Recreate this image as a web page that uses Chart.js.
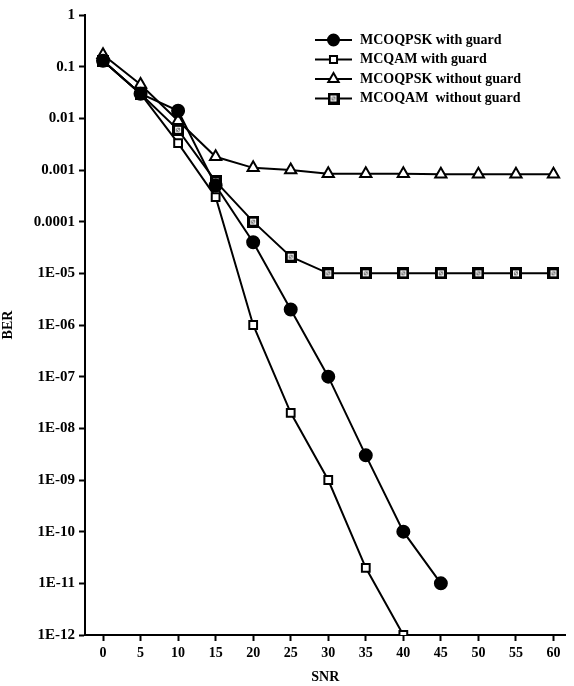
<!DOCTYPE html>
<html>
<head>
<meta charset="utf-8">
<script src="https://cdn.jsdelivr.net/npm/chart.js@4.4.1/dist/chart.umd.min.js"></script>
<style>
  html, body { margin: 0; padding: 0; background: #fff; }
  #wrap { width: 574px; height: 686px; }
</style>
</head>
<body>
<div id="wrap"><canvas id="berChart" width="574" height="686"></canvas></div>
<script>
// SNR values (x) and BER values (y)
const snr = [0, 5, 10, 15, 20, 25, 30, 35, 40, 45, 50, 55, 60];
const qpskGuard = [0.13, 0.03, 0.014, 0.0005, 0.00004, 0.000002, 1e-7, 3e-9, 1e-10, 1e-11];
const qamGuard = [0.13, 0.03, 0.0033, 0.0003, 0.000001, 2e-8, 1e-9, 2e-11, 1e-12];
const qpskNoGuard = [0.17, 0.045, 0.009, 0.0018, 0.0011, 0.001, 0.00085, 0.00085, 0.00085, 0.00083, 0.00083, 0.00083, 0.00083];
const qamNoGuard = [0.13, 0.03, 0.006, 0.0006, 0.0001, 0.000021, 0.00001, 0.00001, 0.00001, 0.00001, 0.00001, 0.00001, 0.00001];
const seriesNames = ['MCOQPSK with guard', 'MCQAM with guard', 'MCOQPSK without guard', 'MCOQAM  without guard'];
const berTicks = [1, 0.1, 0.01, 0.001, 0.0001, 1e-5, 1e-6, 1e-7, 1e-8, 1e-9, 1e-10, 1e-11, 1e-12];
const berLabels = ['1', '0.1', '0.01', '0.001', '0.0001', '1E-05', '1E-06', '1E-07', '1E-08', '1E-09', '1E-10', '1E-11', '1E-12'];

const FONT = '"Liberation Serif", "Times New Roman", serif';

function toPoints(vals) {
    return vals.map((v, i) => ({ x: snr[i], y: v }));
}

// square with a small crossed circle inside (MCOQAM without guard)
function crossSquare() {
    const c = document.createElement('canvas');
    c.width = 12; c.height = 12;
    const g = c.getContext('2d');
    g.fillStyle = '#000';
    g.fillRect(0, 0, 12, 12);
    g.fillStyle = '#fff';
    g.fillRect(3, 3, 6, 6);
    g.strokeStyle = '#777';
    g.lineWidth = 1;
    g.beginPath();
    g.arc(6, 6, 1.8, 0, Math.PI * 2);
    g.moveTo(4, 8); g.lineTo(8, 4);
    g.stroke();
    return c;
}
const crossImg = crossSquare();

const markers = ['circle', 'rect', 'triangle', crossImg];
const markerSize = [6, 5.5, 6.5, 6];
const markerFill = ['#000', '#fff', '#fff', '#fff'];
const seriesData = [qpskGuard, qamGuard, qpskNoGuard, qamNoGuard];

const datasets = seriesData.map((vals, i) => ({
    label: seriesNames[i],
    data: toPoints(vals),
    borderColor: '#000',
    borderWidth: 2,
    backgroundColor: markerFill[i],
    pointStyle: markers[i],
    pointRadius: markerSize[i],
    pointBorderWidth: 2,
    pointBorderColor: '#000',
    pointBackgroundColor: markerFill[i],
    tension: 0
}));

// legend drawn by hand: short line through the marker, text to the right
const lineLegend = {
    id: 'lineLegend',
    afterDraw(chart) {
        const ctx = chart.ctx;
        const x0 = 315, x1 = 352, tx = 360;
        const rows = [40, 59.5, 79, 98.5];
        ctx.save();
        chart.data.datasets.forEach((ds, i) => {
            const y = rows[i];
            ctx.strokeStyle = '#000';
            ctx.lineWidth = 2;
            ctx.beginPath();
            ctx.moveTo(x0, y); ctx.lineTo(x1, y);
            ctx.stroke();
            ctx.fillStyle = ds.pointBackgroundColor;
            Chart.helpers.drawPoint(ctx, {
                pointStyle: ds.pointStyle,
                radius: ds.pointRadius - 0.5,
                borderWidth: 2,
                rotation: 0
            }, (x0 + x1) / 2, y);
            ctx.fillStyle = '#000';
            ctx.font = 'bold 14px ' + FONT;
            ctx.textBaseline = 'middle';
            ctx.textAlign = 'left';
            ctx.fillText(ds.label, tx, y);
        });
        ctx.restore();
    }
};

const ctx = document.getElementById('berChart').getContext('2d');
new Chart(ctx, {
    type: 'line',
    data: { datasets: datasets },
    options: {
        responsive: false,
        animation: false,
        layout: { padding: { top: 15, right: 4, left: 0, bottom: 0 } },
        plugins: {
            legend: { display: false },
            tooltip: { enabled: false }
        },
        scales: {
            x: {
                type: 'linear',
                min: -2.4,
                max: 61.6,
                afterBuildTicks: axis => { axis.ticks = snr.map(v => ({ value: v })); },
                afterFit: axis => { axis.height = 51; },
                grid: { drawOnChartArea: false, color: '#000', tickLength: 6, tickWidth: 2 },
                border: { color: '#000', width: 2 },
                ticks: {
                    color: '#000',
                    padding: 4,
                    maxRotation: 0,
                    font: { family: FONT, size: 14, weight: 'bold' }
                },
                title: {
                    display: true,
                    text: 'SNR',
                    color: '#000',
                    padding: { top: 0, bottom: 0 },
                    font: { family: FONT, size: 14, weight: 'bold' }
                }
            },
            y: {
                type: 'logarithmic',
                min: 1e-12,
                max: 1,
                afterBuildTicks: axis => { axis.ticks = berTicks.map(v => ({ value: v })); },
                afterFit: axis => { axis.width = 85; },
                grid: { drawOnChartArea: false, color: '#000', tickLength: 6, tickWidth: 2 },
                border: { color: '#000', width: 2 },
                ticks: {
                    color: '#000',
                    padding: 4,
                    autoSkip: false,
                    font: { family: FONT, size: 15, weight: 'bold' },
                    callback: (v, i) => berLabels[i]
                },
                title: {
                    display: true,
                    text: 'BER',
                    color: '#000',
                    padding: { top: 0, bottom: 0 },
                    font: { family: FONT, size: 14, weight: 'bold' }
                }
            }
        }
    },
    plugins: [lineLegend]
});
</script>
</body>
</html>
